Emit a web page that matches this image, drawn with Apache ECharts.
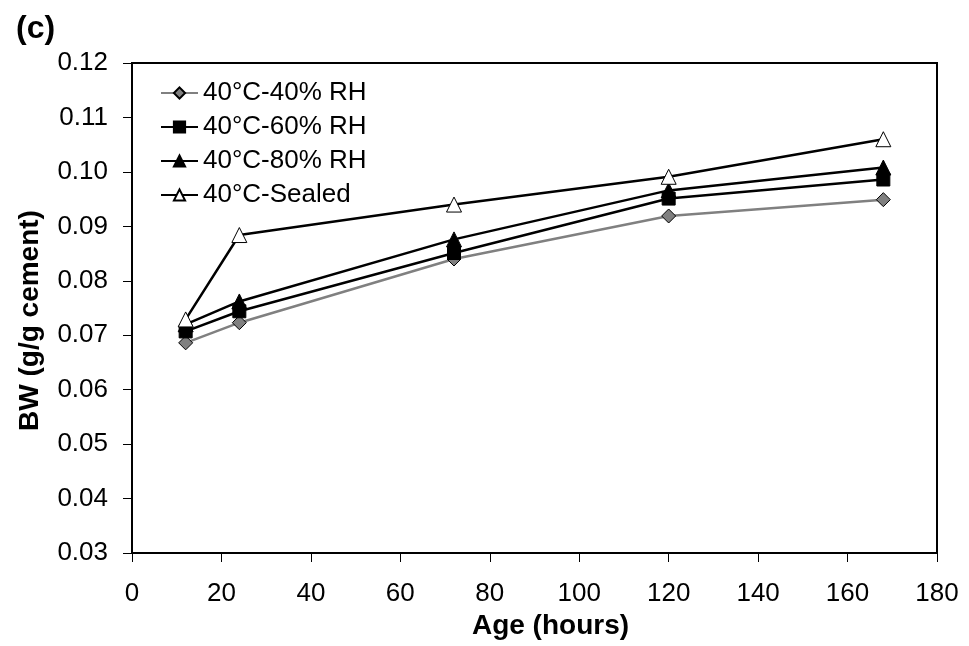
<!DOCTYPE html>
<html>
<head>
<meta charset="utf-8">
<script src="https://cdn.jsdelivr.net/npm/echarts@6/dist/echarts.min.js"></script>
<style>
  body { margin: 0; background: #fff; }
  #chart { width: 969px; height: 646px; }
</style>
</head>
<body>
<div id="chart"></div>
<script>
// age in hours
var ages = [12, 24, 72, 120, 168];
var seriesNames = ["40°C-40% RH", "40°C-60% RH", "40°C-80% RH", "40°C-Sealed"];
var rh40 = [0.0686, 0.0723, 0.0840, 0.0919, 0.0949];
var rh60 = [0.0707, 0.0744, 0.0851, 0.0951, 0.0986];
var rh80 = [0.0720, 0.0762, 0.0876, 0.0966, 0.1008];
var sealed = [0.0729, 0.0884, 0.0940, 0.0991, 0.1060];

var chart = echarts.init(document.getElementById("chart"));
var font = "Liberation Sans, Arial, sans-serif";

function pairs(vals) {
  return ages.map(function (a, i) { return [a, vals[i]]; });
}

function mkSeries(name, vals, symbol, size, lineColor, fill) {
  return {
    name: name,
    type: "line",
    data: pairs(vals),
    symbol: symbol,
    symbolSize: size,
    showAllSymbol: true,
    lineStyle: { color: lineColor, width: 2.5 },
    itemStyle: { color: fill, borderColor: "#000", borderWidth: 1 },
    emphasis: { disabled: true },
    z: 3
  };
}

var diamond = "path://M0,-1 L1,0 L0,1 L-1,0 Z";
var tri = "path://M0,-1 L1,0.8 L-1,0.8 Z";

var option = {
  backgroundColor: "#fff",
  animation: false,
  textStyle: { fontFamily: font },
  title: {
    text: "(c)",
    left: 11,
    top: 8,
    textStyle: { fontSize: 32, fontWeight: "bold", color: "#000", fontFamily: font }
  },
  legend: {
    left: 155,
    top: 75,
    orient: "vertical",
    itemGap: 8,
    itemWidth: 37,
    itemHeight: 14,
    textStyle: { fontSize: 26, color: "#000", fontFamily: font },
    data: seriesNames
  },
  grid: {
    left: 132,
    right: 32,
    top: 63,
    bottom: 93,
    show: true,
    borderColor: "#000",
    borderWidth: 2
  },
  xAxis: {
    type: "value",
    min: 0,
    max: 180,
    interval: 20,
    name: "Age (hours)",
    nameLocation: "middle",
    nameGap: 57,
    nameTextStyle: { fontSize: 28, fontWeight: "bold", color: "#000", fontFamily: font, padding: [0, 0, 0, 32] },
    axisLine: { show: true, lineStyle: { color: "#000", width: 2 } },
    axisTick: { show: true, length: 9, lineStyle: { color: "#000" } },
    axisLabel: { fontSize: 26, color: "#000", margin: 28, fontFamily: font },
    splitLine: { show: false }
  },
  yAxis: {
    type: "value",
    min: 0.03,
    max: 0.12,
    interval: 0.01,
    name: "BW (g/g cement)",
    nameLocation: "middle",
    nameGap: 88,
    nameTextStyle: { fontSize: 28, fontWeight: "bold", color: "#000", fontFamily: font, padding: [0, 25, 0, 0] },
    axisLine: { show: true, lineStyle: { color: "#000", width: 2 } },
    axisTick: { show: true, length: 9, lineStyle: { color: "#000" } },
    axisLabel: {
      fontSize: 26, color: "#000", margin: 24, fontFamily: font,
      formatter: function (v) { return v.toFixed(2); }
    },
    splitLine: { show: false }
  },
  series: [
    mkSeries(seriesNames[0], rh40, diamond, 14, "#808080", "#808080"),
    mkSeries(seriesNames[1], rh60, "rect", 13, "#000", "#000"),
    mkSeries(seriesNames[2], rh80, tri, 15, "#000", "#000"),
    mkSeries(seriesNames[3], sealed, tri, 15, "#000", "#fff")
  ]
};

chart.setOption(option);
</script>
</body>
</html>
